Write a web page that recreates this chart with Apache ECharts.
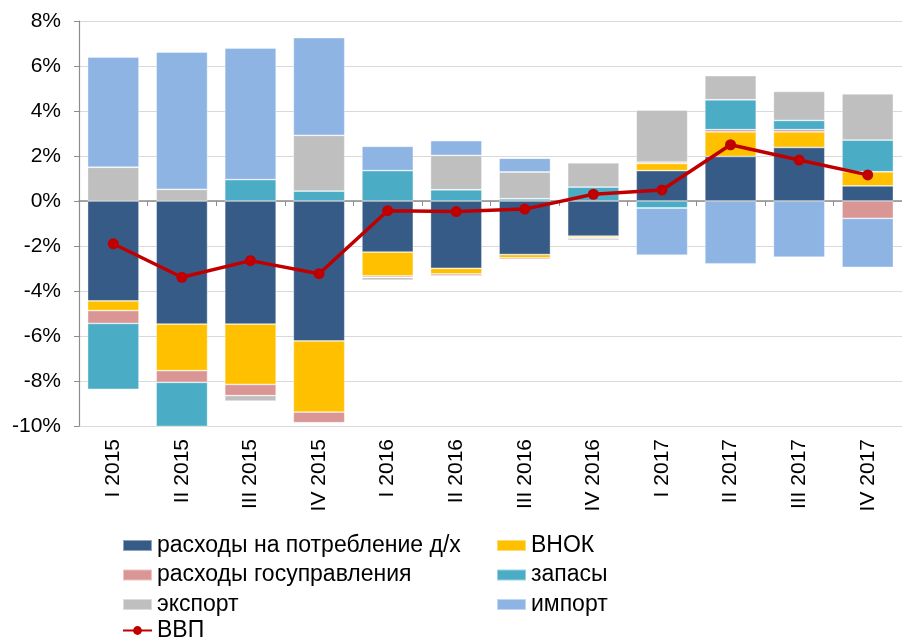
<!DOCTYPE html>
<html>
<head>
<meta charset="utf-8">
<script src="https://cdn.jsdelivr.net/npm/echarts@6/dist/echarts.min.js"></script>
<style>
  html, body { margin: 0; padding: 0; background: #fff; }
  #chart { width: 902px; height: 641px; }
</style>
</head>
<body>
<div id="chart"></div>
<script>
const quarters = ['I 2015', 'II 2015', 'III 2015', 'IV 2015', 'I 2016', 'II 2016', 'III 2016', 'IV 2016', 'I 2017', 'II 2017', 'III 2017', 'IV 2017']

// вклад компонентов в рост ВВП, п.п.
const consumption = [-4.44, -5.47, -5.47, -6.22, -2.27, -2.99, -2.38, -1.56, 1.35, 1.98, 2.38, 0.67]
const investment = [-0.43, -2.07, -2.68, -3.16, -1.06, -0.25, -0.15, -0.07, 0.32, 1.09, 0.69, 0.63]
const government = [-0.57, -0.52, -0.5, -0.47, -0.07, -0.09, -0.07, -0.05, 0.06, 0.1, 0.1, -0.77]
const inventories = [-2.93, -2.3, 0.95, 0.44, 1.35, 0.5, 0.1, 0.62, -0.31, 1.33, 0.41, 1.41]
const exports = [1.5, 0.52, -0.24, 2.48, -0.12, 1.53, 1.19, 1.08, 2.31, 1.07, 1.29, 2.05]
const imports = [4.9, 6.1, 5.85, 4.34, 1.08, 0.65, 0.61, -0.07, -2.1, -2.79, -2.5, -2.18]
const gdp = [-1.9, -3.39, -2.65, -3.23, -0.43, -0.47, -0.36, 0.3, 0.49, 2.5, 1.82, 1.16]

const yTicks = { min: -10, max: 8, step: 2 }

const font = 'Liberation Sans, Arial, sans-serif'
const chart = echarts.init(document.getElementById('chart'))

function bar(name, data, color) {
  return {
    name, data, type: 'bar', stack: 'total', xAxisIndex: 0,
    barCategoryGap: '25%',
    itemStyle: { color, borderColor: 'rgba(255,255,255,0.45)', borderWidth: 0.8 },
  }
}

const legendText = { fontFamily: font, fontSize: 23, color: '#000', lineHeight: 22 }
const legendBase = {
  orient: 'vertical', padding: 0, itemWidth: 29, itemHeight: 11, itemGap: 6.5,
  selectedMode: false, textStyle: legendText,
}

chart.setOption({
  animation: false,
  textStyle: { fontFamily: font },
  grid: { left: 79, right: -13, top: 21, bottom: 215 },
  legend: [
    {
      ...legendBase, left: 122, top: 534,
      data: [
        { name: 'расходы на потребление д/х', icon: 'rect' },
        { name: 'расходы госуправления', icon: 'rect' },
        { name: 'экспорт', icon: 'rect' },
      ],
    },
    {
      ...legendBase, left: 122, top: 619,
      data: [{ name: 'ВВП' }],
    },
    {
      ...legendBase, left: 496, top: 534,
      data: [
        { name: 'ВНОК', icon: 'rect' },
        { name: 'запасы', icon: 'rect' },
        { name: 'импорт', icon: 'rect' },
      ],
    },
  ],
  xAxis: [
    {
      type: 'category', data: quarters, position: 'bottom',
      axisLine: { show: false, onZero: false },
      axisTick: { show: false },
      axisLabel: { rotate: 90, margin: 13, fontSize: 21, color: '#000', fontFamily: font },
    },
    {
      type: 'category', data: quarters, position: 'bottom',
      axisLine: { show: true, onZero: true, lineStyle: { color: '#8c8c8c', width: 1.5 } },
      axisTick: { show: true, length: 5, lineStyle: { color: '#8c8c8c' } },
      axisLabel: { show: false },
    },
  ],
  yAxis: {
    type: 'value', min: yTicks.min, max: yTicks.max, interval: yTicks.step,
    axisLine: { show: true, lineStyle: { color: '#8c8c8c', width: 1.2 } },
    axisTick: { show: true, length: 5, lineStyle: { color: '#8c8c8c' } },
    splitLine: { lineStyle: { color: '#d9d9d9', width: 1.2 } },
    axisLabel: { formatter: '{value}%', fontSize: 21, color: '#000', margin: 18, fontFamily: font },
  },
  series: [
    bar('расходы на потребление д/х', consumption, '#365b87'),
    bar('ВНОК', investment, '#ffc000'),
    bar('расходы госуправления', government, '#d99694'),
    bar('запасы', inventories, '#4bacc6'),
    bar('экспорт', exports, '#bfbfbf'),
    bar('импорт', imports, '#8eb4e3'),
    {
      name: 'ВВП', type: 'line', data: gdp, xAxisIndex: 0,
      color: '#c00000',
      lineStyle: { color: '#c00000', width: 3.5 },
      symbol: 'circle', symbolSize: 11,
      itemStyle: { color: '#c00000' },
      z: 10,
    },
  ],
})
</script>
</body>
</html>
